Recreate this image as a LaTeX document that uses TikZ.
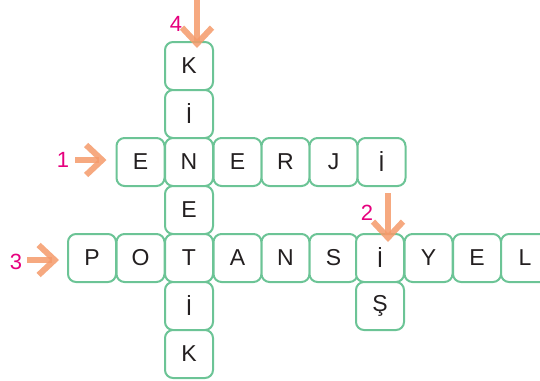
\documentclass[tikz,border=0pt]{standalone}
\usepackage{fontspec}
\setmainfont{Liberation Sans}
\usetikzlibrary{arrows.meta}
\definecolor{cellgreen}{HTML}{6CC496}
\definecolor{numpink}{HTML}{E6007E}
\definecolor{arroworange}{HTML}{F59A6A}
\definecolor{letterblack}{HTML}{231F20}
\tikzset{
  cell/.style={draw=cellgreen, line width=2pt, rounded corners=8pt, fill=white,
    minimum width=48pt, minimum height=48pt, inner sep=0pt, text=letterblack,
    font=\fontsize{23}{23}\selectfont},
  num/.style={text=numpink, font=\fontsize{22}{22}\selectfont, inner sep=0pt},
  clue/.style={draw=arroworange, opacity=0.85, line width=6.5pt,
    -{Straight Barb[length=16pt,width=30pt,line width=6pt]}}
}
\begin{document}
\begin{tikzpicture}[x=1pt,y=-1pt]
\useasboundingbox (0,0) rectangle (540,380);
% KİNETİK column
\node[cell] (k1) at (189,66) {K};
\node[cell] (k2) at (189,114) {İ};
\node[cell] (e2) at (189,162) {N};
\node[cell] (k4) at (189,210) {E};
\node[cell] (p3) at (189,258) {T};
\node[cell] (k6) at (189,306) {İ};
\node[cell] (k7) at (189,354) {K};
% ENERJİ row
\node[cell] (e1) at (140.5,162) {E};
\node[cell] (e3) at (237.5,162) {E};
\node[cell] (e4) at (285.5,162) {R};
\node[cell] (e5) at (333.5,162) {J};
\node[cell] (e6) at (381.5,162) {İ};
% POTANSİYEL row
\node[cell] (p1) at (92,258) {P};
\node[cell] (p2) at (140.5,258) {O};
\node[cell] (p4) at (237.5,258) {A};
\node[cell] (p5) at (285.5,258) {N};
\node[cell] (p6) at (333.5,258) {S};
\node[cell] (p7) at (380,258) {İ};
\node[cell] (p8) at (428.5,258) {Y};
\node[cell] (p9) at (477,258) {E};
\node[cell] (p10) at (525,258) {L};
% İŞ
\node[cell] (s2) at (380,306) {Ş};
% clue arrows
\coordinate (a1) at (75,160);
\coordinate (a2) at (388,193);
\coordinate (a3) at (27,260);
\coordinate (a4) at (197,0);
\draw[clue] (a1) -- ([xshift=-9pt]e1.west |- a1);
\draw[clue] (a2) -- ([yshift=-9pt]p7.north -| a2);
\draw[clue] (a3) -- ([xshift=-8pt]p1.west |- a3);
\draw[clue] (a4) -- ([yshift=-7pt]k1.north -| a4);
% numbers
\node[num] (n1) at (63,160) {1};
\node[num] (n2) at (367,213) {2};
\node[num] (n3) at (16,262) {3};
\node[num] (n4) at (176,24) {4};
\end{tikzpicture}
\end{document}
